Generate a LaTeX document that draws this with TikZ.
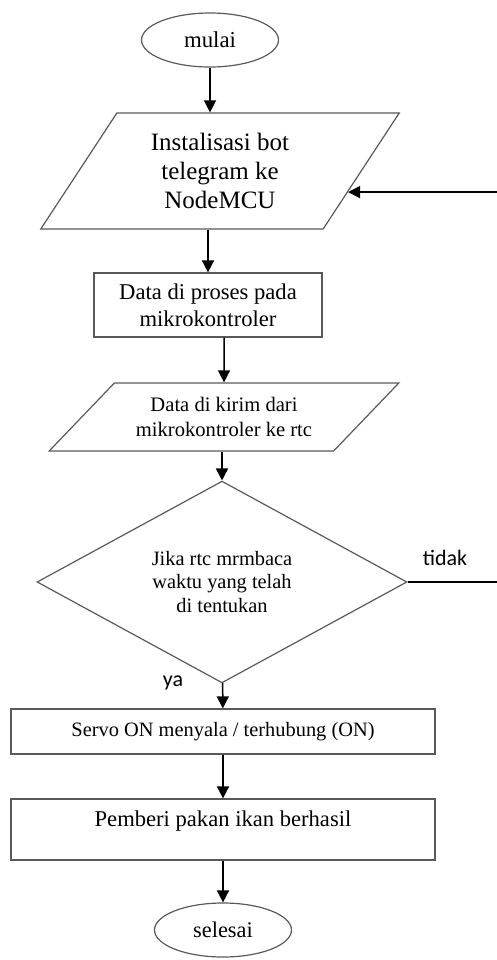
\documentclass[tikz,border=0pt]{standalone}
\usepackage{fontspec}
\setmainfont{Liberation Serif}
\newfontfamily\lblfont{Carlito}
\usetikzlibrary{shapes.geometric,arrows.meta,calc}

\begin{document}
\begin{tikzpicture}[x=0.5pt,y=-0.5pt,
    terminal/.style={ellipse, draw=black!65, line width=0.6pt, inner sep=0pt, minimum width=68.5pt, minimum height=27pt},
    iobox/.style={trapezium, trapezium stretches=true, draw=black!65, line width=0.6pt, inner sep=0pt, align=center},
    procbox/.style={rectangle, draw=black!65, line width=0.6pt, inner sep=0pt, align=center},
    decide/.style={diamond, draw=black!65, line width=0.6pt, inner sep=0pt, align=center, minimum width=185pt, minimum height=84pt},
    flowline/.style={line width=0.75pt, -{Triangle[length=6pt,width=6pt]}},
    lbl/.style={font=\lblfont\fontsize{11}{13}\selectfont, inner sep=0pt}]
    \useasboundingbox (0,0) rectangle (497,960);

    % start / end
    \node[terminal, font=\fontsize{11.4}{13.7}\selectfont] (start) at (210,40) {mulai};
    \node[terminal, font=\fontsize{11.2}{13.4}\selectfont] (stop) at (223,930) {selesai};

    % input / output
    \node[iobox, trapezium left angle=56, trapezium right angle=124,
          minimum width=179.5pt, minimum height=58pt,
          font=\fontsize{12.5}{14.5}\selectfont] (in1) at (220,171)
          {Instalisasi bot\\telegram ke\\NodeMCU};
    \node[iobox, trapezium left angle=37, trapezium right angle=143,
          minimum width=175pt, minimum height=34pt,
          font=\fontsize{10.3}{12.5}\selectfont] (in2) at (224,417)
          {Data di kirim dari\\mikrokontroler ke rtc};

    % process
    \node[procbox, minimum width=114pt, minimum height=32pt,
          font=\fontsize{11.3}{13.5}\selectfont] (proc1) at (208,305)
          {Data di proses pada\\mikrokontroler};
    \node[procbox, minimum width=212pt, minimum height=22.5pt,
          font=\fontsize{10.2}{12}\selectfont] (act1) at (223,731.5)
          {Servo ON menyala / terhubung (ON)};
    \node[procbox, minimum width=212pt, minimum height=30.5pt,
          text height=8pt, text depth=10.8pt,
          font=\fontsize{11.3}{13.5}\selectfont] (act2) at (223,829.5)
          {Pemberi pakan ikan berhasil};

    % decision
    \node[decide, font=\fontsize{10.2}{11.75}\selectfont] (dec) at (222,582)
          {Jika rtc mrmbaca\\waktu yang telah\\di tentukan};

    % labels
    \node[lbl] (tidak) at (445,558) {tidak};
    \node[lbl] (ya) at (173,683) {ya};

    % arrows
    \draw[flowline] (start) -- (start |- in1.north);
    \draw[flowline] (proc1 |- in1.south) -- (proc1);
    \draw[flowline] (proc1.south -| in2) -- (in2);
    \draw[flowline] (dec |- in2.south) -- (dec);
    \draw[flowline] (dec) -- (act1);
    \draw[flowline] (act1) -- (act2);
    \draw[flowline] (act2) -- (stop);

    % back to start (tidak)
    \coordinate (edge) at (497,0);
    \coordinate (back) at ($(in1.bottom right corner)!0.32!(in1.top right corner)$);
    \draw[line width=0.75pt] (dec.east) -- (dec.east -| edge);
    \draw[flowline] (back -| edge) -- (back);
\end{tikzpicture}
\end{document}
